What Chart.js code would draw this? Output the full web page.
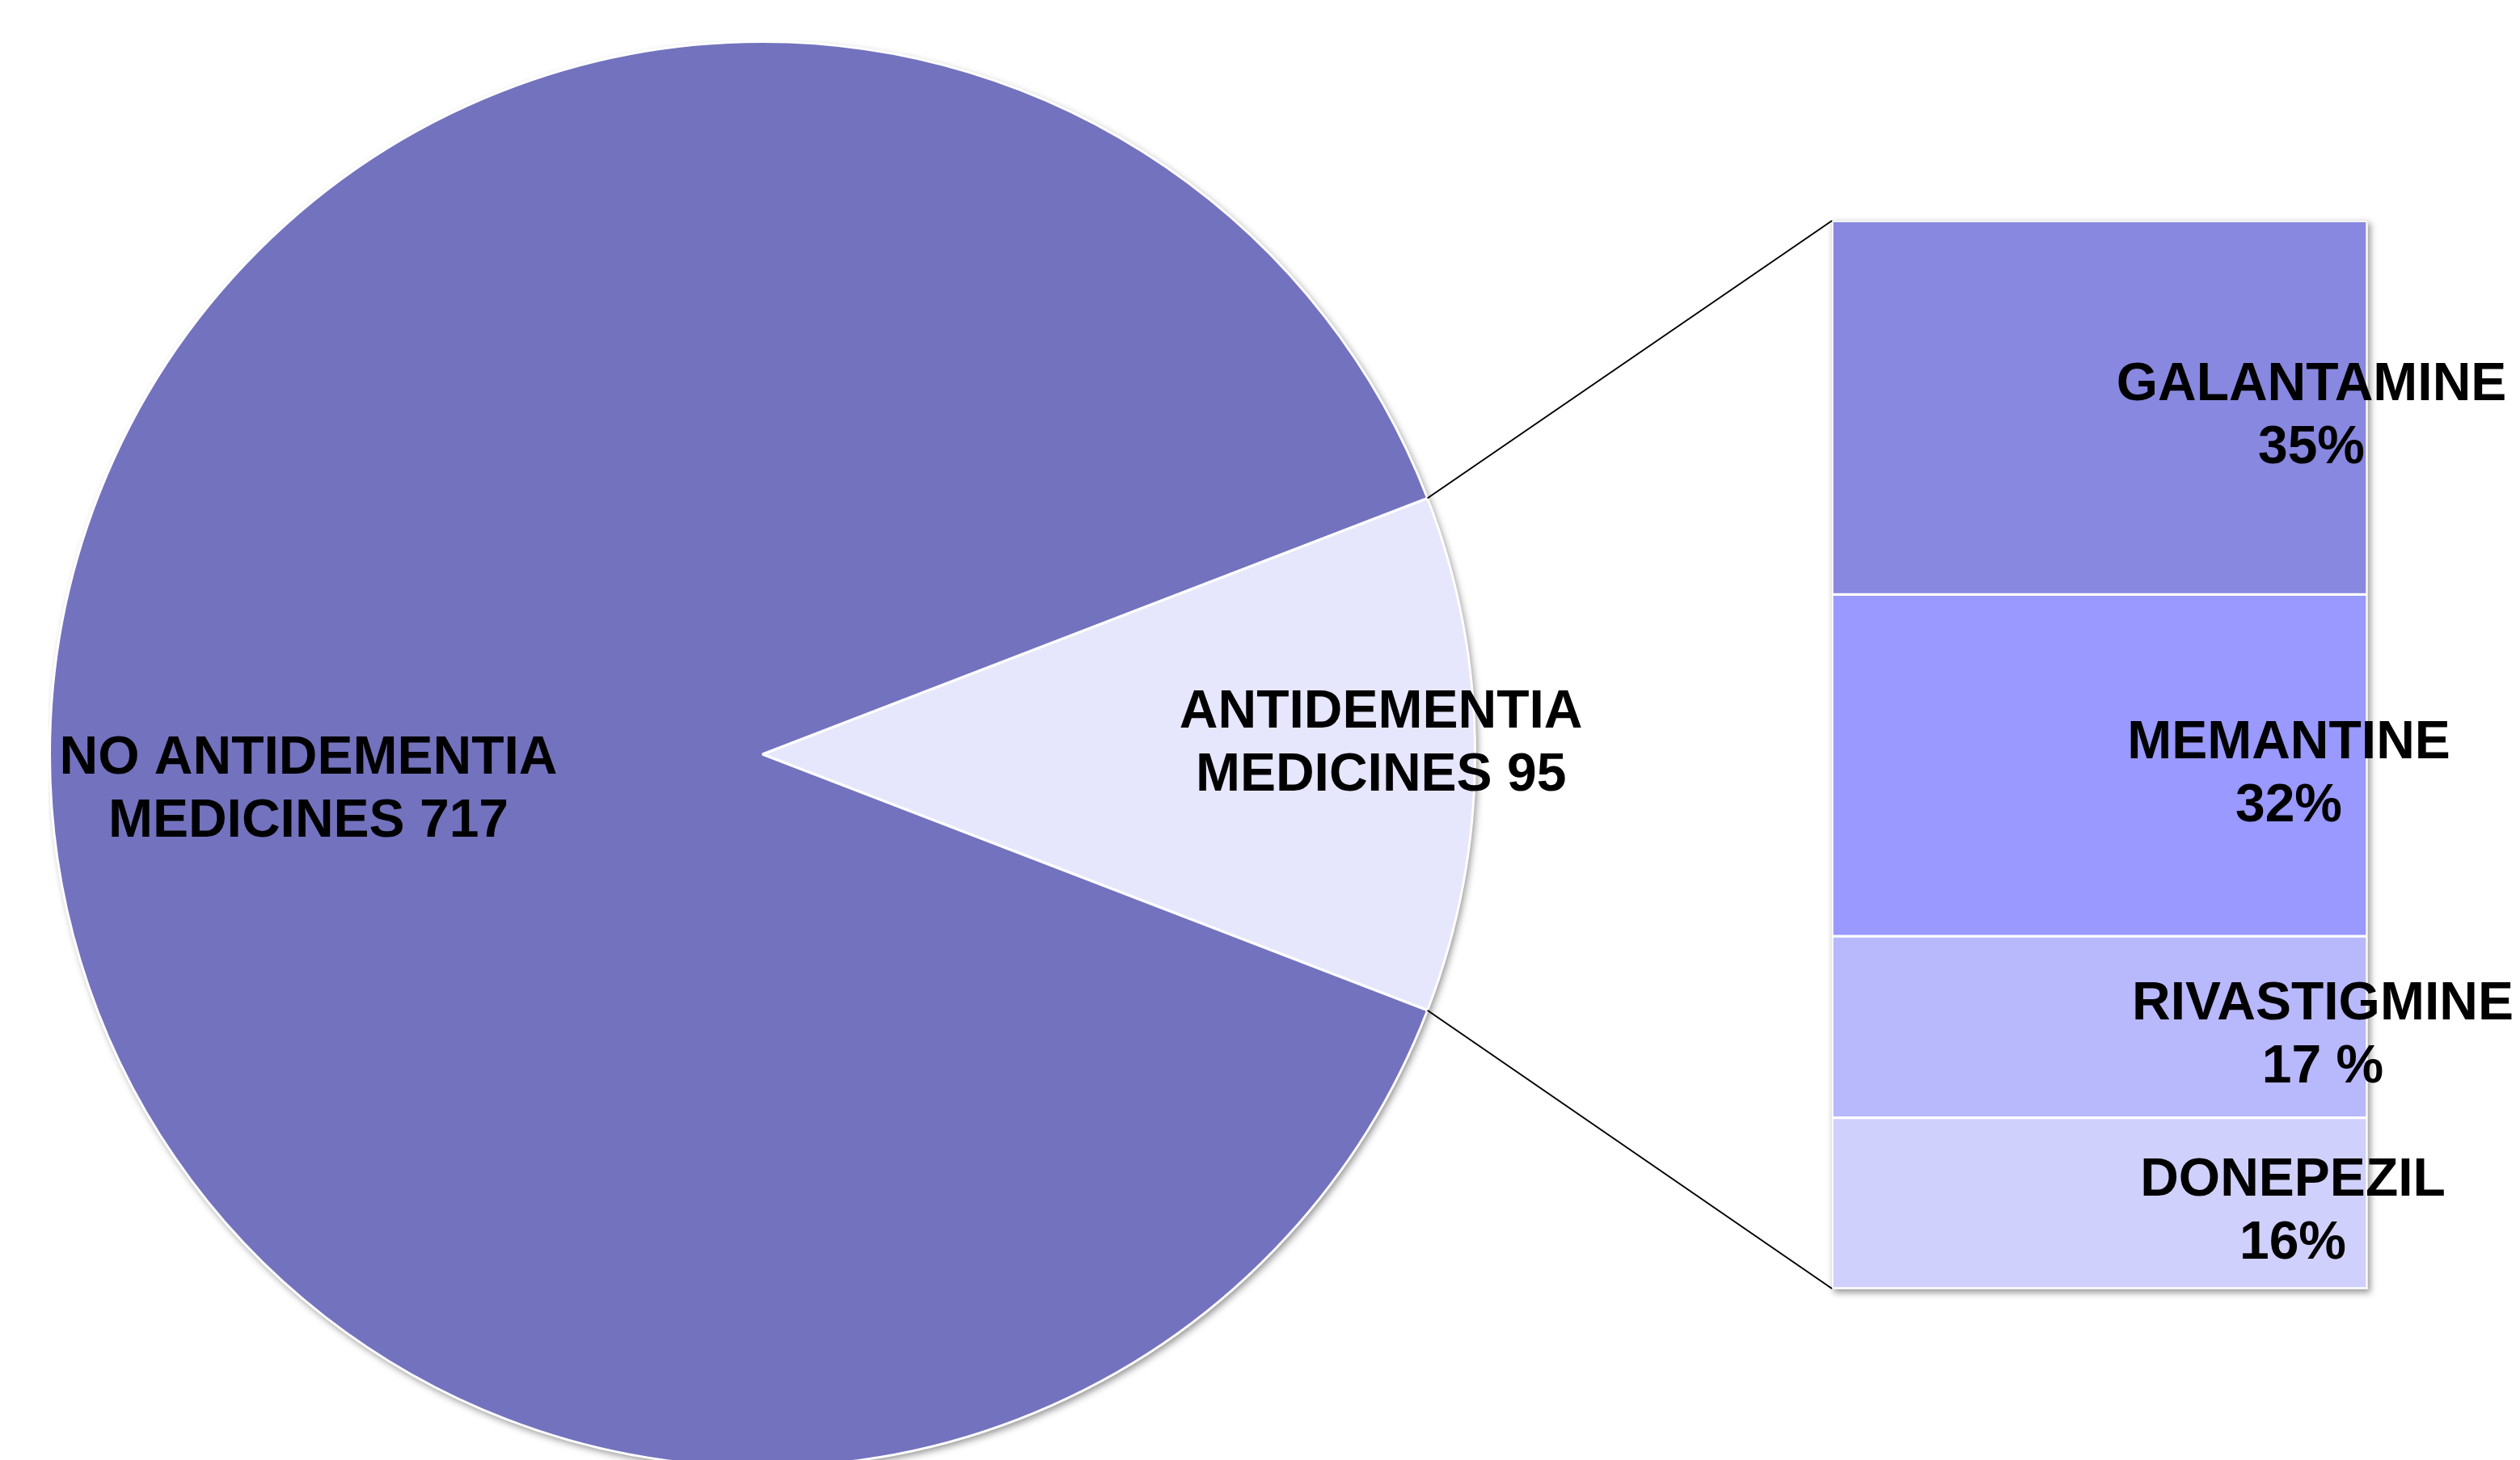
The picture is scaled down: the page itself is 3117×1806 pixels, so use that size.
<!DOCTYPE html>
<html>
<head>
<meta charset="utf-8">
<script src="https://cdn.jsdelivr.net/npm/chart.js@4.4.1/dist/chart.umd.min.js"></script>
<style>
html, body { margin: 0; padding: 0; background: #fff; overflow: hidden; width: 3117px; height: 1806px; }
#pie-chart { position: absolute; left: 60px; top: 50px; }
#bar-chart { position: absolute; left: 1700px; top: 0px; }
</style>
</head>
<body>
<canvas id="pie-chart" width="2300" height="1766"></canvas>
<canvas id="bar-chart" width="1417" height="1806"></canvas>
<script>
// pie: people with / without antidementia medicines
const pieLabels = [['ANTIDEMENTIA', 'MEDICINES 95'], ['NO ANTIDEMENTIA', 'MEDICINES 717']];
const pieValues = [95, 717];
const pieColors = ['#E6E6FC', '#7372BE'];

// breakdown bar (top to bottom)
const drugNames = ['GALANTAMINE', 'MEMANTINE', 'RIVASTIGMINE', 'DONEPEZIL'];
const drugShares = [35, 32, 17, 16];
const drugShareLabels = ['35%', '32%', '17 %', '16%'];
const drugColors = ['#8888E0', '#9999FF', '#B8B8FC', '#D0D0FC'];

const LABEL_FONT = 'bold 66px "Liberation Sans", Arial, sans-serif';
const LINE_GAP = 78;

function drawLines(ctx, lines, cx, cy) {
    ctx.save();
    ctx.font = LABEL_FONT;
    ctx.fillStyle = '#000';
    ctx.textAlign = 'center';
    ctx.textBaseline = 'alphabetic';
    const top = cy - (lines.length - 1) * LINE_GAP / 2;
    lines.forEach((t, i) => ctx.fillText(t, cx, top + i * LINE_GAP + 24));
    ctx.restore();
}

const pieTotal = pieValues.reduce((a, b) => a + b, 0);
const pieRotation = 90 - (pieValues[0] / pieTotal) * 360 / 2;

// label placement along the slice mid angle
const pieLabelRadius = [0.868, 0.637];
const pieLabelShiftY = [-18, 39];

const pieShadow = {
    id: 'pieShadow',
    beforeDatasetsDraw(chart) {
        const arc = chart.getDatasetMeta(0).data[0];
        const ctx = chart.ctx;
        ctx.save();
        ctx.shadowColor = 'rgba(0,0,0,0.45)';
        ctx.shadowBlur = 10;
        ctx.shadowOffsetX = 3;
        ctx.shadowOffsetY = 4;
        ctx.fillStyle = '#ffffff';
        ctx.beginPath();
        ctx.arc(arc.x, arc.y, arc.outerRadius, 0, Math.PI * 2);
        ctx.fill();
        ctx.restore();
    }
};

const pieText = {
    id: 'pieText',
    afterDatasetsDraw(chart) {
        chart.getDatasetMeta(0).data.forEach((arc, i) => {
            const mid = (arc.startAngle + arc.endAngle) / 2;
            const x = arc.x + Math.cos(mid) * arc.outerRadius * pieLabelRadius[i];
            const y = arc.y + Math.sin(mid) * arc.outerRadius * pieLabelRadius[i] + pieLabelShiftY[i];
            drawLines(chart.ctx, pieLabels[i], x, y);
        });
    }
};

const pieChart = new Chart(document.getElementById('pie-chart'), {
    type: 'pie',
    data: {
        labels: pieLabels.map(l => l.join(' ')),
        datasets: [{
            data: pieValues,
            backgroundColor: pieColors,
            borderColor: '#ffffff',
            borderWidth: 3
        }]
    },
    options: {
        responsive: false,
        animation: false,
        rotation: pieRotation,
        // extra room on the right so the slice label is not cut
        layout: { padding: { left: 0, top: 0, bottom: 0, right: 534 } },
        plugins: {
            legend: { display: false },
            tooltip: { enabled: false }
        }
    },
    plugins: [pieShadow, pieText]
});

// horizontal nudge of each bar label from the bar centre
const barLabelNudge = [262, 234, 276, 239];
const barLabelDrop = 6;

const barShadow = {
    id: 'barShadow',
    beforeDatasetsDraw(chart) {
        const n = chart.data.datasets.length;
        const bottom = chart.getDatasetMeta(0).data[0];
        const top = chart.getDatasetMeta(n - 1).data[0];
        const ctx = chart.ctx;
        ctx.save();
        ctx.shadowColor = 'rgba(0,0,0,0.4)';
        ctx.shadowBlur = 8;
        ctx.shadowOffsetX = 3;
        ctx.shadowOffsetY = 4;
        ctx.fillStyle = '#e8e8e8';
        ctx.fillRect(top.x - top.width / 2 - 1, top.y - 1, top.width + 2, bottom.base - top.y + 2);
        ctx.restore();
    }
};

const barText = {
    id: 'barText',
    afterDatasetsDraw(chart) {
        chart.data.datasets.forEach((ds, d) => {
            const el = chart.getDatasetMeta(d).data[0];
            const i = drugNames.indexOf(ds.label);
            drawLines(chart.ctx, [drugNames[i], drugShareLabels[i]], el.x + barLabelNudge[i], (el.y + el.base) / 2 + barLabelDrop);
        });
    }
};

const connectors = {
    id: 'connectors',
    afterDraw(chart) {
        const pieCanvas = pieChart.canvas;
        const dx = pieCanvas.offsetLeft - chart.canvas.offsetLeft;
        const dy = pieCanvas.offsetTop - chart.canvas.offsetTop;
        const arc = pieChart.getDatasetMeta(0).data[0];
        const n = chart.data.datasets.length;
        const topEl = chart.getDatasetMeta(n - 1).data[0];
        const botEl = chart.getDatasetMeta(0).data[0];
        const p1 = [arc.x + Math.cos(arc.startAngle) * arc.outerRadius + dx, arc.y + Math.sin(arc.startAngle) * arc.outerRadius + dy];
        const p2 = [arc.x + Math.cos(arc.endAngle) * arc.outerRadius + dx, arc.y + Math.sin(arc.endAngle) * arc.outerRadius + dy];
        const ctx = chart.ctx;
        ctx.save();
        ctx.strokeStyle = '#000';
        ctx.lineWidth = 2;
        ctx.beginPath();
        ctx.moveTo(p1[0], p1[1]);
        ctx.lineTo(topEl.x - topEl.width / 2, topEl.y);
        ctx.moveTo(p2[0], p2[1]);
        ctx.lineTo(botEl.x - botEl.width / 2, botEl.base);
        ctx.stroke();
        ctx.restore();
    }
};

new Chart(document.getElementById('bar-chart'), {
    type: 'bar',
    data: {
        labels: ['ANTIDEMENTIA MEDICINES'],
        // stacked from the bottom, so the list is reversed
        datasets: drugNames.map((name, i) => ({
            label: name,
            data: [drugShares[i]],
            backgroundColor: drugColors[i],
            borderColor: '#ffffff',
            borderWidth: 2,
            borderSkipped: false,
            barPercentage: 1,
            categoryPercentage: 1
        })).reverse()
    },
    options: {
        responsive: false,
        animation: false,
        layout: { padding: { left: 566, right: 189, top: 273, bottom: 212 } },
        scales: {
            x: { stacked: true, display: false },
            y: { stacked: true, display: false, min: 0, max: 100 }
        },
        plugins: {
            legend: { display: false },
            tooltip: { enabled: false }
        }
    },
    plugins: [barShadow, barText, connectors]
});
</script>
</body>
</html>
